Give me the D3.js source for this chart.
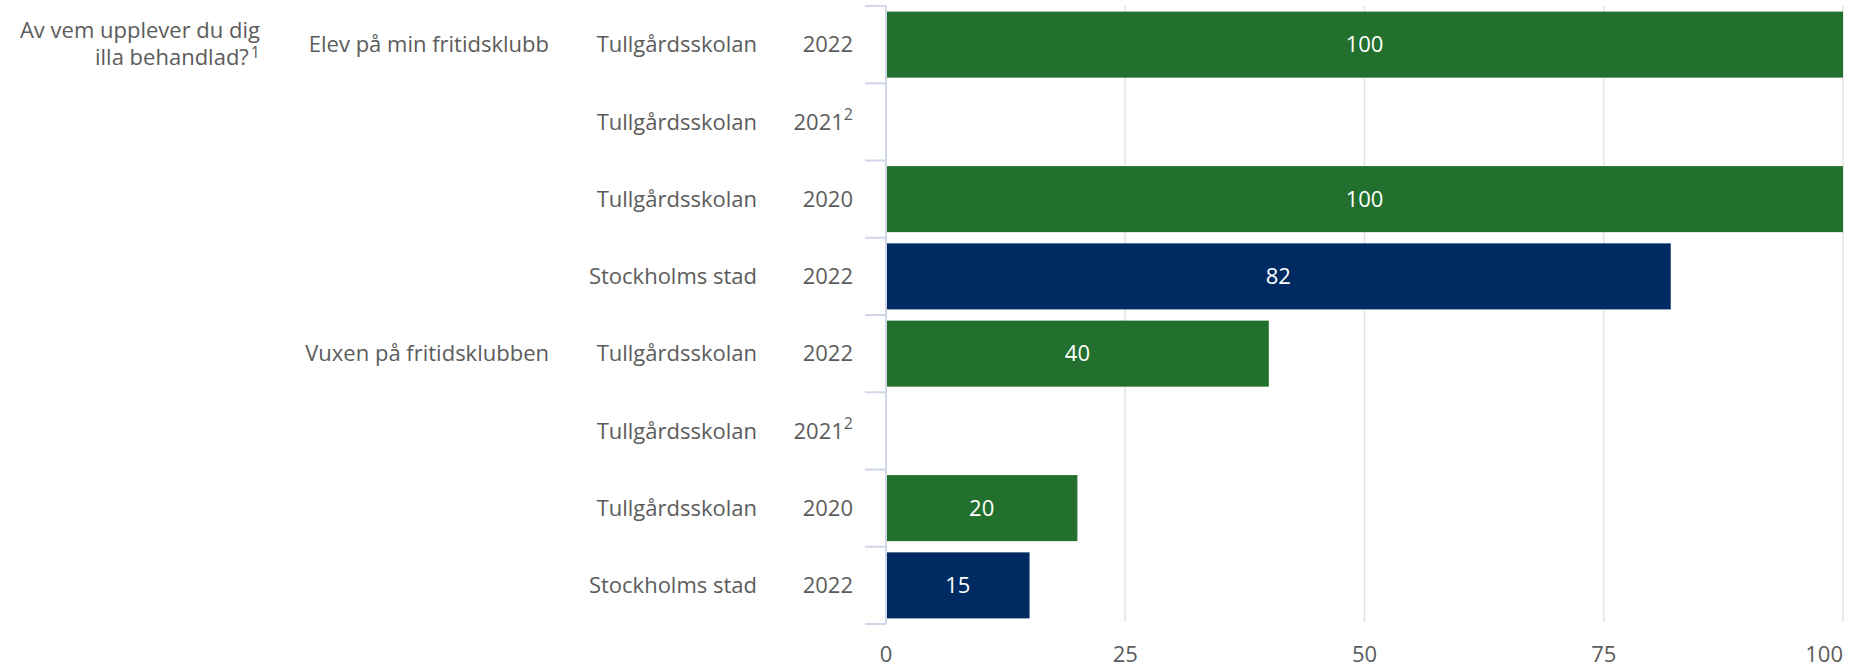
<!DOCTYPE html>
<html>
<head>
<meta charset="utf-8">
<script src="https://cdn.jsdelivr.net/npm/d3@7"></script>
<style>
  body { margin: 0; background: #fff; }
  text { font-family: "Open Sans", sans-serif; }
</style>
</head>
<body>
<div id="chart"></div>
<script>
// Chart data, one entry per row (top to bottom)
const question = ["Av vem upplever du dig", "illa behandlad?"];
const groups = ["Elev på min fritidsklubb", "", "", "", "Vuxen på fritidsklubben", "", "", ""];
const units = ["Tullgårdsskolan", "Tullgårdsskolan", "Tullgårdsskolan", "Stockholms stad",
               "Tullgårdsskolan", "Tullgårdsskolan", "Tullgårdsskolan", "Stockholms stad"];
const years = ["2022", "2021", "2020", "2022", "2022", "2021", "2020", "2022"];
const yearNotes = ["", "2", "", "", "", "2", "", ""];
const values = [100, null, 100, 82, 40, null, 20, 15];
const xTicks = [0, 25, 50, 75, 100];

const GREEN = "#236f2e";
const NAVY = "#002b62";
const TEXT = "#5c5c5c";
const FS = 22;

const width = 1851;
const height = 670;
const margin = { top: 6, right: 8, bottom: 46, left: 886 };

const rows = values.map((v, i) => ({
  i, group: groups[i], unit: units[i], year: years[i], note: yearNotes[i], value: v
}));

const svg = d3.select("#chart").append("svg")
  .attr("width", width)
  .attr("height", height);

const x = d3.scaleLinear()
  .domain([0, 100])
  .range([margin.left, width - margin.right]);

const y = d3.scaleBand()
  .domain(rows.map(d => d.i))
  .range([margin.top, height - margin.bottom])
  .paddingInner(0.145)
  .paddingOuter(0.0725);

// band edges (without padding) for the category tick marks
const step = y.step();
const edge = i => margin.top + i * step;

// vertical gridlines
svg.append("g")
  .selectAll("line")
  .data(xTicks.filter(t => t > 0))
  .join("line")
  .attr("x1", d => x(d)).attr("x2", d => x(d))
  .attr("y1", margin.top).attr("y2", height - margin.bottom - 2)
  .attr("stroke", "#e3e3e3")
  .attr("stroke-width", 1.5);

// bars
svg.append("g")
  .selectAll("rect")
  .data(rows.filter(d => d.value != null))
  .join("rect")
  .attr("x", x(0) + 1)
  .attr("y", d => y(d.i))
  .attr("width", d => x(d.value) - x(0) - 1)
  .attr("height", y.bandwidth())
  .attr("fill", d => d.unit === "Stockholms stad" ? NAVY : GREEN);

// value labels inside bars
svg.append("g")
  .selectAll("text")
  .data(rows.filter(d => d.value != null))
  .join("text")
  .attr("x", d => (x(0) + x(d.value)) / 2)
  .attr("y", d => y(d.i) + y.bandwidth() / 2)
  .attr("dy", "0.35em")
  .attr("text-anchor", "middle")
  .attr("font-size", FS)
  .attr("fill", "#fff")
  .text(d => d.value);

// category axis line + tick marks
const axisColor = "#cfd7e8";
svg.append("line")
  .attr("x1", x(0)).attr("x2", x(0))
  .attr("y1", edge(0)).attr("y2", edge(rows.length))
  .attr("stroke", axisColor).attr("stroke-width", 2);
svg.append("g")
  .selectAll("line")
  .data(d3.range(rows.length + 1))
  .join("line")
  .attr("x1", x(0) - 21).attr("x2", x(0))
  .attr("y1", d => edge(d)).attr("y2", d => edge(d))
  .attr("stroke", axisColor).attr("stroke-width", 2);

// x axis tick labels
svg.append("g")
  .selectAll("text")
  .data(xTicks)
  .join("text")
  .attr("x", d => x(d))
  .attr("y", height - 8)
  .attr("text-anchor", d => d === 100 ? "end" : "middle")
  .attr("font-size", FS)
  .attr("fill", TEXT)
  .text(d => d);

// row labels: year column
const mid = d => y(d.i) + y.bandwidth() / 2;
const yearText = svg.append("g")
  .selectAll("text")
  .data(rows)
  .join("text")
  .attr("x", 853)
  .attr("y", mid)
  .attr("dy", "0.35em")
  .attr("text-anchor", "end")
  .attr("font-size", FS)
  .attr("fill", TEXT);
yearText.append("tspan").text(d => d.year);
yearText.filter(d => d.note).append("tspan")
  .attr("font-size", 16)
  .attr("dy", "-0.6em")
  .text(d => d.note);

// unit column
svg.append("g")
  .selectAll("text")
  .data(rows)
  .join("text")
  .attr("x", 757)
  .attr("y", mid)
  .attr("dy", "0.35em")
  .attr("text-anchor", "end")
  .attr("font-size", FS)
  .attr("fill", TEXT)
  .text(d => d.unit);

// group column
svg.append("g")
  .selectAll("text")
  .data(rows.filter(d => d.group))
  .join("text")
  .attr("x", 549)
  .attr("y", mid)
  .attr("dy", "0.35em")
  .attr("text-anchor", "end")
  .attr("font-size", FS)
  .attr("fill", TEXT)
  .text(d => d.group);

// question label, two lines with footnote marker
const q = svg.append("g").attr("fill", TEXT).attr("font-size", FS);
q.append("text")
  .attr("x", 260).attr("y", 30).attr("dy", "0.35em")
  .attr("text-anchor", "end")
  .text(question[0]);
const q2 = q.append("text")
  .attr("x", 260).attr("y", 57).attr("dy", "0.35em")
  .attr("text-anchor", "end");
q2.append("tspan").text(question[1]);
q2.append("tspan").attr("font-size", 16).attr("dy", "-0.45em").attr("dx", 2).text("1");
</script>
</body>
</html>
